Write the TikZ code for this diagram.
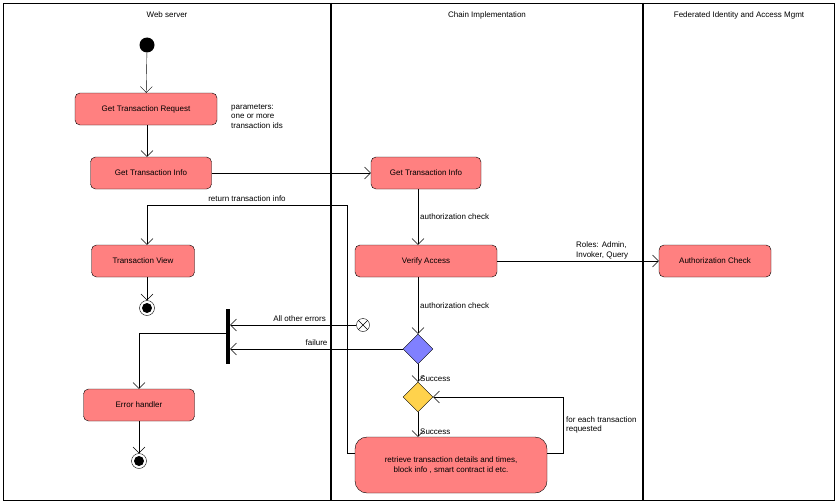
\documentclass[tikz,border=0pt]{standalone}
\usepackage{fontspec}
\setmainfont{Liberation Sans}
\usetikzlibrary{arrows.meta,shapes.geometric,positioning}
\begin{document}
\begin{tikzpicture}[x=1pt, y=-1pt, font=\fontsize{8}{9.5}\selectfont,
		act/.style={draw, rounded corners=5pt, fill=red!50!white, minimum height=32pt, inner sep=2pt},
		dec/.style={draw, diamond, minimum width=30pt, minimum height=30pt, inner sep=0pt},
		lbl/.style={anchor=west, inner sep=0pt, align=left},
		flow/.style={-{Straight Barb[length=6pt,width=12pt]}}]
	\useasboundingbox (0,0) rectangle (837,503);
	\draw (3,3) rectangle (834,500);
	\draw[very thick] (331,3) -- (331,500);
	\draw[very thick] (643,3) -- (643,500);
	
	\node at (167,15) {Web server};
	\node at (487,15) {Chain Implementation};
	\node at (739,15) {Federated Identity and Access Mgmt};
	
	\node[circle, fill=black, minimum size=15pt, inner sep=0pt] (start) at (147,45) {};
	\node[act, minimum width=142pt] (req) at (146,109) {Get Transaction Request};
	\node[lbl] (params) at (231,116) {parameters:\\one or more\\transaction ids};
	\node[act, minimum width=121pt] (infoL) at (151,173) {Get Transaction Info};
	\node[act, minimum width=110pt] (infoR) at (426,173) {Get Transaction Info};
	\node[act, minimum width=142pt] (verify) at (426,261) {Verify Access};
	\node[act, minimum width=112pt] (authz) at (715,261) {Authorization Check};
	\node[act, minimum width=103pt] (view) at (143,261) {Transaction View};
	\node[act, minimum width=111pt] (err) at (139,405) {Error handler};
	\node[act, minimum width=192pt, minimum height=56pt, rounded corners=12pt, align=center] (ret) at (451,465) {retrieve transaction details and times,\\block info , smart contract id etc.};
	\node[dec, fill=blue!50!white] (d1) at (418,349) {};
	\node[dec, fill=orange!50!yellow!70!white] (d2) at (418,397) {};
	\node[fill=black, minimum width=4pt, minimum height=55pt, inner sep=0pt] (bar) at (228,336) {};
	\node[draw, circle, minimum size=13pt, inner sep=0pt] (cross) at (363,325) {};
	\draw (cross.north west) -- (cross.south east) (cross.north east) -- (cross.south west);
	\foreach \n/\x/\y in {end1/147/308, end2/139/461} {
		\node[draw, circle, minimum size=15pt, inner sep=0pt] (\n) at (\x,\y) {};
		\fill (\x,\y) circle (5pt);
	}
	
	\draw[flow] (start) -- (req);
	\draw[flow] (req.south -| 147,0) -- (infoL.north -| 147,0);
	\draw[flow] (infoL) -- (infoR);
	\draw[flow] (infoR.south -| 418,0) -- node[lbl, right=2pt] {authorization check} (verify.north -| 418,0);
	\draw[flow] (verify) -- node[lbl, pos=0.45, above right=2pt and 6pt] {Roles: Admin,\\Invoker, Query} (authz);
	\draw[flow] (verify.south -| 418,0) -- node[lbl, right=2pt] {authorization check} (d1);
	\draw[flow] (d1) -- node[lbl, right=2pt, pos=0.8] {Success} (d2);
	\draw[flow] (d2) -- node[lbl, right=2pt, pos=0.8] {Success} (ret.north -| 418,0);
	\draw[flow] (ret.east |- 0,453) -| (563,397) node[lbl, pos=0.75, right=3pt] {for each transaction\\requested} -- (d2.east);
	\draw[flow] (ret.west |- 0,453) -| (347,205) -- node[above] {return transaction info} (147,205) -- (view.north -| 147,0);
	\draw[flow] (view.south -| 147,0) -- (end1);
	\draw[flow] (cross) -- node[above, pos=0.45] {All other errors} (bar.east |- cross);
	\draw[flow] (d1) -- node[above, pos=0.5] {failure} (bar.east |- d1);
	\draw[flow] (bar.west |- 0,333) -| (err.north -| 139,0);
	\draw[flow] (err) -- (end2);
\end{tikzpicture}
\end{document}
